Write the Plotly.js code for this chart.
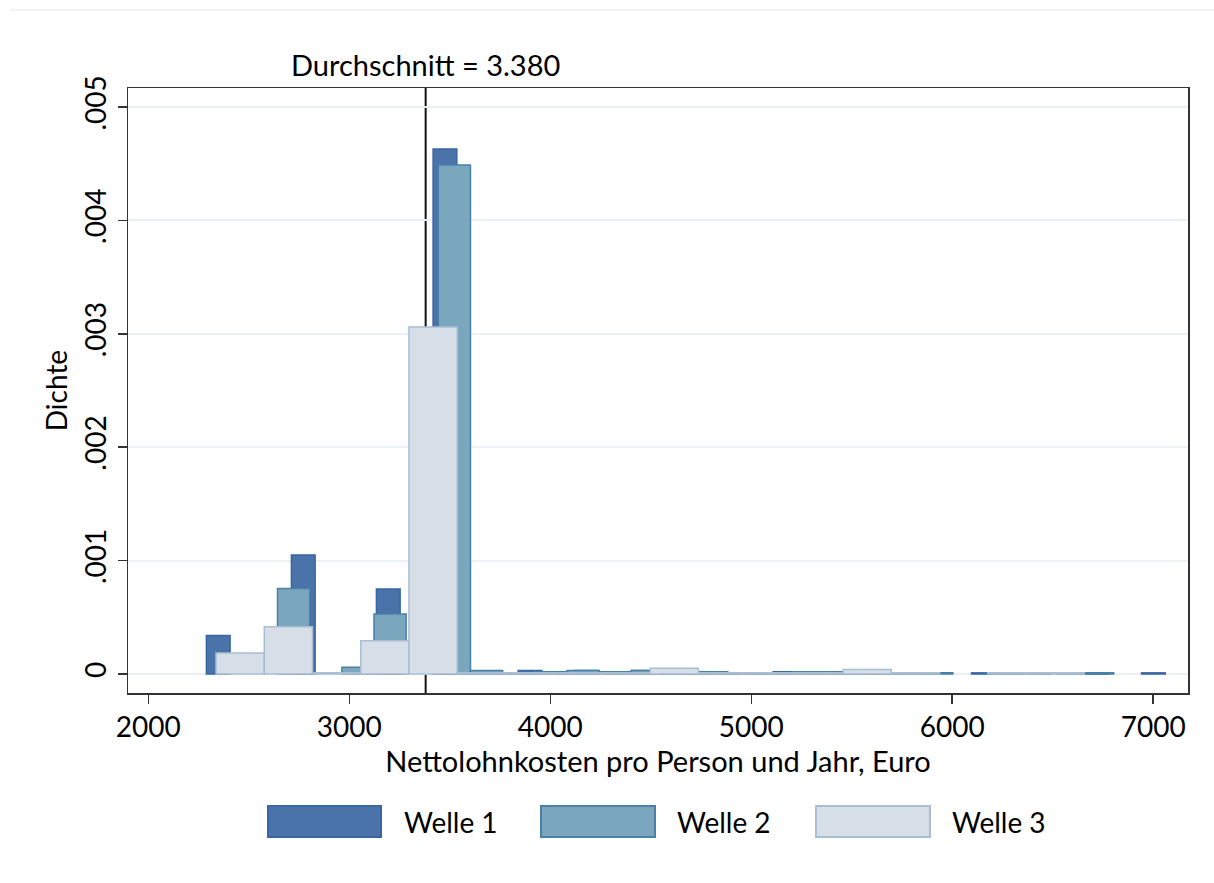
<!DOCTYPE html>
<html>
<head>
<meta charset="utf-8">
<script src="https://cdn.plot.ly/plotly-3.0.1.min.js"></script>
<style>
html,body{margin:0;padding:0;background:#fff;}
#chart{width:1214px;height:883px;}
</style>
</head>
<body>
<div id="chart"></div>
<script>
// ---------- data ----------
const series_names = ['Welle 1', 'Welle 2', 'Welle 3'];

// bin midpoints (Euro) and densities
const welle1_bins = [2348, 2489, 2630, 2771, 2912, 3053, 3194, 3335, 3476, 3617, 3758, 3899, 4040, 4181, 4322, 4463, 4604, 4745, 4886, 5027, 5168, 5309, 5450, 5591, 5732, 5873, 6014, 6155, 6296, 6437, 6578, 6719, 6860, 7001];
const welle1_density = [0.00034, null, null, 0.00105, null, null, 0.00075, null, 0.00463, 0.00001, 0.00001, 0.00003, 0.00002, 0.00003, 0.00001, 0.00003, 0.00002, 0.00002, 0.00001, 0.00001, 0.00002, 0.00002, 0.00001, 0.00001, 0.00001, 0.00001, null, 0.00001, 0.00001, 0.00001, 0.00001, 0.00001, null, 0.00001];

const welle2_bins = [2723, 2883, 3043, 3203, 3363, 3523, 3683, 3843, 4003, 4163, 4323, 4483, 4643, 4803, 4963, 5123, 5283, 5443, 5603, 5763, 5923, 6083, 6243, 6403, 6563, 6723, 6883];
const welle2_density = [0.000755, null, 0.00006, 0.00053, null, 0.00449, 0.00003, 0.00001, 0.00002, 0.00003, 0.00002, 0.00003, 0.00002, 0.00002, 0.00001, 0.00001, 0.00002, 0.00002, 0.00001, 0.00001, 0.00001, null, 0.00001, 0.00001, null, 0.00001, null];

const welle3_bins = [2457, 2697, 2937, 3177, 3417, 3657, 3897, 4137, 4377, 4617, 4857, 5097, 5337, 5577, 5817, 6057, 6297, 6537, 6777];
const welle3_density = [0.000185, 0.000417, 0.00001, 0.000293, 0.00306, 0.00001, 0.00001, 0.00001, 0.00001, 0.00005, 0.00001, 0.00001, 0.00001, 0.00004, 0.00001, null, 0.00001, 0.00001, null];

const mean_value = 3380;
const mean_label = 'Durchschnitt = 3.380';

const x_tickvals = [2000, 3000, 4000, 5000, 6000, 7000];
const x_ticktext = ['2000', '3000', '4000', '5000', '6000', '7000'];
const y_tickvals = [0, 0.001, 0.002, 0.003, 0.004, 0.005];
const y_ticktext = ['0', '.001', '.002', '.003', '.004', '.005'];

const x_title = 'Nettolohnkosten pro Person und Jahr, Euro';
const y_title = 'Dichte';

// ---------- style ----------
const FONT = 'Lato, "Liberation Sans", Arial, sans-serif';
const FS = 28;
const fills = ['#4A73A9', '#7BA7BE', '#D6DEE7'];
const lines = ['#3A66A3', '#4A80A8', '#A9BED3'];
const widths = [118, 160, 240];

const W = 1214, H = 883;
const L = 128, R = 1188, T = 88, B = 693;
const px2x = p => (p - L) / (R - L);
const px2y = p => (B - p) / (B - T);

const traces = [
  [welle1_bins, welle1_density],
  [welle2_bins, welle2_density],
  [welle3_bins, welle3_density]
].map((d, i) => ({
  type: 'bar',
  name: series_names[i],
  x: d[0],
  y: d[1],
  width: widths[i],
  marker: {color: fills[i], line: {color: lines[i], width: 1.5}},
  showlegend: false,
  hoverinfo: 'x+y+name'
}));

// custom legend (wide swatches)
const legendSwatchPx = [[268, 381], [541, 655], [816, 930]];
const legendTextPx = [402, 675, 950];
const shapes = [];
const annotations = [];

shapes.push({
  type: 'line', xref: 'x', yref: 'paper',
  x0: mean_value, x1: mean_value, y0: 0, y1: 1,
  line: {color: '#111', width: 2}, layer: 'between'
});
shapes.push({
  type: 'line', xref: 'paper', yref: 'paper',
  x0: px2x(10), x1: px2x(1214), y0: px2y(10), y1: px2y(10),
  line: {color: '#EDEDED', width: 1.5}
});

series_names.forEach((n, i) => {
  shapes.push({
    type: 'rect', xref: 'paper', yref: 'paper',
    x0: px2x(legendSwatchPx[i][0]), x1: px2x(legendSwatchPx[i][1]),
    y0: px2y(837), y1: px2y(806),
    fillcolor: fills[i], line: {color: lines[i], width: 2}
  });
  annotations.push({
    xref: 'paper', yref: 'paper',
    x: px2x(legendTextPx[i]), y: px2y(822),
    xanchor: 'left', yanchor: 'middle',
    text: n, showarrow: false,
    font: {family: FONT, size: FS, color: '#000'}
  });
});

annotations.push({
  xref: 'x', yref: 'paper', x: mean_value, y: px2y(64),
  xanchor: 'center', yanchor: 'middle',
  text: mean_label, showarrow: false,
  font: {family: FONT, size: 29, color: '#000'}
});

const layout = {
  width: W, height: H,
  margin: {l: L, r: W - R, t: T, b: H - B, pad: 0},
  paper_bgcolor: '#fff', plot_bgcolor: '#fff',
  barmode: 'overlay',
  bargap: 0,
  showlegend: false,
  font: {family: FONT, size: FS, color: '#000'},
  xaxis: {
    range: [1899, 7173],
    tickvals: x_tickvals, ticktext: x_ticktext,
    ticks: 'outside', ticklen: 9, tickwidth: 1.5, tickcolor: '#333',
    showline: true, linecolor: '#333', linewidth: 1.5, mirror: true,
    showgrid: false, zeroline: false,
    tickfont: {family: FONT, size: FS, color: '#000'},
    title: {text: x_title, font: {family: FONT, size: 29, color: '#000'}, standoff: 0}
  },
  yaxis: {
    range: [-0.0001675, 0.005168],
    tickvals: y_tickvals, ticktext: y_ticktext, tickangle: -90,
    ticks: 'outside', ticklen: 9, tickwidth: 1.5, tickcolor: '#333',
    showline: true, linecolor: '#333', linewidth: 1.5, mirror: true,
    showgrid: true, gridcolor: '#EAF0F6', gridwidth: 2, zeroline: false,
    tickfont: {family: FONT, size: FS, color: '#000'},
    title: {text: y_title, font: {family: FONT, size: FS, color: '#000'}, standoff: 2}
  },
  shapes: shapes,
  annotations: annotations
};

Plotly.newPlot('chart', traces, layout, {staticPlot: true, displayModeBar: false});
</script>
</body>
</html>
